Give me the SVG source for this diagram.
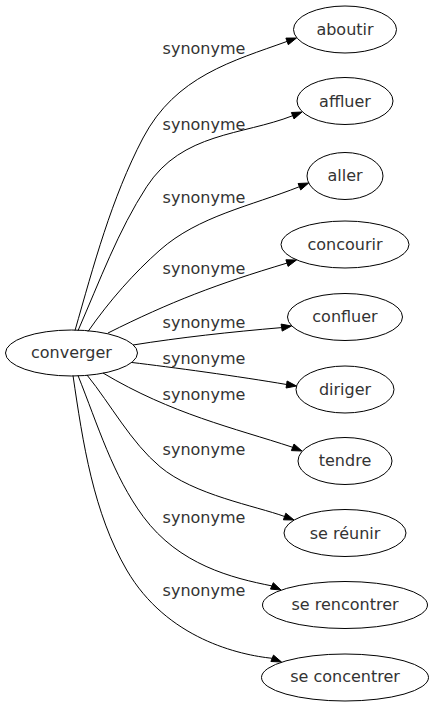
<svg xmlns="http://www.w3.org/2000/svg" width="434" height="707" viewBox="0 0 434 707">
<style>
.node ellipse{fill:none;stroke:#000;stroke-width:1}
text{font-family:"DejaVu Sans","Liberation Sans",sans-serif;font-size:16px;fill:#333;text-anchor:middle}
.edge path{fill:none;stroke:#000;stroke-width:1}
.edge polygon{fill:#000;stroke:#000;stroke-width:1}
</style>
<rect width="434" height="707" fill="#fff"/>
<g id="edges">
<g class="edge"><path d="M75,330.5 C93.6,265.6 111.4,198.2 143,138 C175.6,76 233,61 287.1,41.4"/><polygon points="288.3,44.7 296.5,38 285.9,38.1"/><text x="204" y="53.5">synonyme</text></g>
<g class="edge"><path d="M78,330.7 C99.8,280.7 118.3,230.3 146.7,186.7 C182.2,132.2 242,135.5 292.7,115.7"/><polygon points="294,118.9 302,112 291.4,112.5"/><text x="204" y="130">synonyme</text></g>
<g class="edge"><path d="M88,331.5 C109.7,300.4 133.8,273.2 160,250 C198.2,216.2 251,205.9 299.4,186.7"/><polygon points="300.7,189.9 308.7,183 298.1,183.5"/><text x="204" y="203">synonyme</text></g>
<g class="edge"><path d="M108,333 C170.6,301.7 217,284 287,263.1"/><polygon points="288.1,266.4 296.5,260 285.9,259.8"/><text x="204" y="274">synonyme</text></g>
<g class="edge"><path d="M133,345 C180,337.5 230,332 281.6,327.6"/><polygon points="282.2,331.1 291.5,326 281.1,324.1"/><text x="204" y="327.5">synonyme</text></g>
<g class="edge"><path d="M132,362.5 C170,367 240,376.5 286.6,384.5"/><polygon points="286.1,388 296.5,386 287.1,381"/><text x="204" y="363.5">synonyme</text></g>
<g class="edge"><path d="M103,373 C171.6,414 234,428 292.7,447.3"/><polygon points="291.4,450.6 302,451 294,444"/><text x="204" y="400">synonyme</text></g>
<g class="edge"><path d="M87,375 C111.2,405 130.9,442.3 160,466.7 C193.7,495 256,506 284.6,516.5"/><polygon points="283.4,519.8 294,520 285.8,513.2"/><text x="204" y="455">synonyme</text></g>
<g class="edge"><path d="M78,375.5 C97.8,425 112.9,475.7 143.3,516.7 C179.1,564.9 232,578 271.9,585.9"/><polygon points="270.5,589.1 281,590 273.3,582.7"/><text x="204" y="523">synonyme</text></g>
<g class="edge"><path d="M73,375.5 C82.9,443.3 93.5,513 126.7,570 C166.9,639.1 240,655 272.2,658.3"/><polygon points="270.9,661.5 281.5,662 273.5,655.1"/><text x="204" y="596">synonyme</text></g>
</g>
<g id="converger" class="node"><ellipse cx="71.5" cy="353" rx="66" ry="23"/><text x="71.5" y="358">converger</text></g>
<g id="aboutir" class="node"><ellipse cx="345" cy="29.5" rx="51.5" ry="23.5"/><text x="345" y="35">aboutir</text></g>
<g id="affluer" class="node"><ellipse cx="345" cy="101" rx="48" ry="23.5"/><text x="345" y="107">affluer</text></g>
<g id="aller" class="node"><ellipse cx="345" cy="176" rx="38" ry="23.5"/><text x="345" y="180.5">aller</text></g>
<g id="concourir" class="node"><ellipse cx="345" cy="244.5" rx="64" ry="23.5"/><text x="345" y="249.5">concourir</text></g>
<g id="confluer" class="node"><ellipse cx="345" cy="317" rx="57.5" ry="23.5"/><text x="345" y="321.5">confluer</text></g>
<g id="diriger" class="node"><ellipse cx="345" cy="389.5" rx="49" ry="23.5"/><text x="345" y="394.5">diriger</text></g>
<g id="tendre" class="node"><ellipse cx="345" cy="461" rx="47" ry="23.5"/><text x="345" y="466">tendre</text></g>
<g id="se-reunir" class="node"><ellipse cx="345" cy="533" rx="61" ry="23.5"/><text x="345" y="538.5">se réunir</text></g>
<g id="se-rencontrer" class="node"><ellipse cx="345" cy="605" rx="82.5" ry="23.5"/><text x="345" y="609.5">se rencontrer</text></g>
<g id="se-concentrer" class="node"><ellipse cx="345" cy="677.5" rx="83.5" ry="23.5"/><text x="345" y="681.5">se concentrer</text></g>
</svg>
